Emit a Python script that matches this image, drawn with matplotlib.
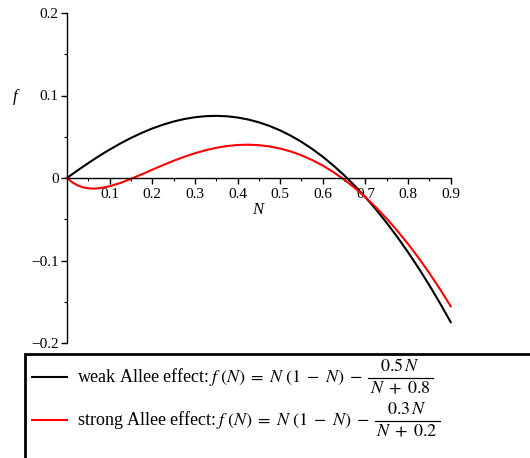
import matplotlib
matplotlib.use("Agg")
import matplotlib.pyplot as plt
from matplotlib.patches import Rectangle
from matplotlib.lines import Line2D
from matplotlib.ticker import FixedLocator, FixedFormatter

plt.rcParams['font.family'] = ['Liberation Serif', 'DejaVu Serif']
plt.rcParams['mathtext.fontset'] = 'stix'

N_values = [0.0, 0.0125, 0.025, 0.0375, 0.05, 0.0625, 0.075, 0.0875, 0.1, 0.125,
            0.15, 0.175, 0.2, 0.225, 0.25,
            0.275, 0.3, 0.325, 0.35, 0.375, 0.4, 0.425, 0.45, 0.475, 0.5, 0.525,
            0.55, 0.575, 0.6, 0.625, 0.65, 0.675, 0.7, 0.725, 0.75, 0.775, 0.8,
            0.825, 0.85, 0.875, 0.9]
weak_f = [0.0, 0.00465, 0.00922, 0.01371, 0.01809, 0.02236, 0.02652, 0.03055,
          0.03444, 0.04181, 0.04855, 0.05463,
          0.06, 0.06462, 0.06845, 0.07147, 0.07364, 0.07493, 0.07533, 0.0748,
          0.07333, 0.07091, 0.0675, 0.0631, 0.05769, 0.05126, 0.0438, 0.03528,
          0.02571, 0.01508, 0.00336, -0.00944, -0.02333, -0.03833, -0.05444,
          -0.07166, -0.09, -0.10947, -0.13008, -0.15182, -0.17471]
strong_f = [0.0, -0.0053, -0.00896, -0.01128, -0.0125, -0.01284, -0.01244, -0.01146,
            -0.01, -0.00601, -0.00107, 0.00438,
            0.01, 0.01555, 0.02083, 0.02569, 0.03, 0.03366, 0.03659, 0.03872,
            0.04, 0.04038, 0.03981, 0.03826, 0.03571, 0.03213, 0.0275, 0.02179,
            0.015, 0.0071, -0.00191, -0.01205, -0.02333, -0.03576, -0.04934,
            -0.06409, -0.08, -0.09709, -0.11536, -0.13481, -0.15546]

x_ticks = [0.1, 0.2, 0.3, 0.4, 0.5, 0.6, 0.7, 0.8, 0.9]
x_labels = ["0.1", "0.2", "0.3", "0.4", "0.5", "0.6", "0.7", "0.8", "0.9"]
y_ticks = [-0.2, -0.1, 0.0, 0.1, 0.2]
y_labels = ["\u22120.2", "\u22120.1", "0", "0.1", "0.2"]

legend_prefix = ["weak Allee effect:", "strong Allee effect:"]
legend_num = ["0.5", "0.3"]
legend_den = ["0.8", "0.2"]
legend_colors = ["black", "#ff0000"]

W, H = 530, 458
fig = plt.figure(figsize=(W / 100, H / 100), dpi=100)
ax = fig.add_axes([67 / W, 1 - 343 / H, (450.7 - 67) / W, (343 - 13) / H])
ax.set_xlim(0, 0.9)
ax.set_ylim(-0.2, 0.2)

ax.plot(N_values, weak_f, color=legend_colors[0], lw=1.5, clip_on=False)
ax.plot(N_values, strong_f, color=legend_colors[1], lw=1.5, clip_on=False)

ax.spines['top'].set_visible(False)
ax.spines['right'].set_visible(False)
ax.spines['left'].set_position(('data', 0))
ax.spines['bottom'].set_position(('data', 0))
for s in ('left', 'bottom'):
    ax.spines[s].set_linewidth(1.0)

ax.xaxis.set_major_locator(FixedLocator(x_ticks))
ax.xaxis.set_major_formatter(FixedFormatter(x_labels))
ax.xaxis.set_minor_locator(FixedLocator([0.05 + 0.1 * i for i in range(9)]))
ax.yaxis.set_major_locator(FixedLocator(y_ticks))
ax.yaxis.set_major_formatter(FixedFormatter(y_labels))
ax.yaxis.set_minor_locator(FixedLocator([-0.15, -0.05, 0.05, 0.15]))
ax.tick_params(which='major', direction='out', length=4, width=1.0, labelsize=11)
ax.tick_params(axis='y', which='major', pad=2)
ax.tick_params(axis='x', which='major', pad=3)
ax.tick_params(which='minor', direction='out', length=2.5, width=0.8)

fig.text(15 / W, 1 - 97 / H, "f", fontsize=12, style='italic', ha='center', va='center')
fig.text(258 / W, 1 - 210 / H, "N", fontsize=12, style='italic', ha='center', va='center')

# legend box
fig.patches.append(Rectangle((25 / W, -0.2), 1.0, (1 - 354 / H) + 0.2,
                             transform=fig.transFigure, fill=False,
                             edgecolor='black', lw=2.0))

renderer = fig.canvas.get_renderer()
row_y = [377, 420]  # pixel rows (from top) of the legend entries
fs = 13
for i in range(2):
    yc = row_y[i]
    fig.lines.append(Line2D([32 / W, 67 / W], [1 - yc / H] * 2, transform=fig.transFigure,
                            color=legend_colors[i], lw=1.5))
    t = fig.text(77 / W, 1 - (yc + 5) / H,
                 legend_prefix[i] + r"$\,f\ (N)\;=\;N\ (1\;-\;N)\;-$",
                 fontsize=fs, ha='left', va='baseline')
    bb = t.get_window_extent(renderer)
    x0 = bb.x1 + 5
    fw = 65
    xc = x0 + fw / 2
    fig.lines.append(Line2D([x0 / W, (x0 + fw) / W], [1 - (yc + 1) / H] * 2,
                            transform=fig.transFigure, color='black', lw=0.9))
    fig.text(xc / W, 1 - (yc - 2) / H, r"$%s\,N$" % legend_num[i], fontsize=fs,
             ha='center', va='bottom')
    fig.text(xc / W, 1 - (yc + 3) / H, r"$N\;+\;%s$" % legend_den[i], fontsize=fs,
             ha='center', va='top')

fig.savefig("out.png", dpi=100)
